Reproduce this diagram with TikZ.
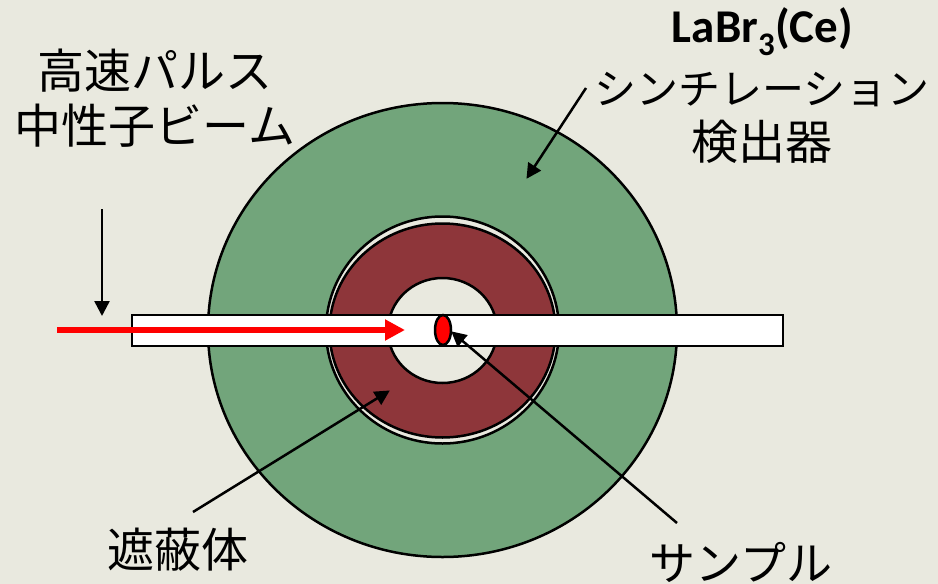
\documentclass[tikz,border=0pt]{standalone}
\usepackage{fontspec}
\setmainfont{Noto Sans CJK JP}
\newfontfamily\latinbold[Ligatures=TeX]{Carlito}
\usetikzlibrary{shapes.geometric,arrows.meta}
\definecolor{bgpale}{HTML}{E9E9DF}
\definecolor{detgreen}{HTML}{72A57B}
\definecolor{shieldred}{HTML}{8E363A}
\tikzset{
  ring/.style={ellipse,draw=black,line width=2.5pt,inner sep=0pt,outer sep=0pt},
  pointer/.style={draw=black,line width=2.5pt,-{Triangle[length=15pt,width=15pt]},shorten >=-1pt},
  beamarrow/.style={draw=red,line width=6pt,-{Triangle[length=20pt,width=20pt]}},
  lab/.style={font=\fontsize{47}{55}\selectfont,align=center,inner sep=0pt,text=black},
}
\begin{document}
\begin{tikzpicture}[x=1pt,y=-1pt]
\useasboundingbox[fill=bgpale] (0,0) rectangle (938,584);
\node[ring,fill=detgreen,minimum width=469pt,minimum height=454pt] (det) at (442.5,330) {};
\node[ring,fill=bgpale,minimum width=233pt,minimum height=227pt] (gap) at (442.5,330) {};
\node[ring,fill=shieldred,minimum width=226pt,minimum height=214pt] (shield) at (442.5,330.5) {};
\node[ring,fill=bgpale,minimum width=109pt,minimum height=105pt] (hole) at (442.5,330.5) {};
\node[draw=black,fill=white,line width=2.5pt,inner sep=0pt,outer sep=0pt,minimum width=651pt,minimum height=31pt] (tube) at (457.5,330.5) {};
\coordinate (beamstart) at (57,330);
\coordinate (beamend) at (405,330);
\draw[beamarrow] (beamstart) -- (beamend);
\node[ring,fill=red,minimum width=16pt,minimum height=30pt] (sample) at (443,330) {};
\coordinate (dropstart) at (102,209);
\coordinate (dropend) at (102,315);
\draw[pointer] (dropstart) -- (dropend);
\coordinate (detstart) at (586,88);
\coordinate (detend) at (527,178);
\draw[pointer] (detstart) -- (detend);
\coordinate (shieldstart) at (193,512);
\coordinate (shieldend) at (389,391);
\draw[pointer] (shieldstart) -- (shieldend);
\coordinate (samplestart) at (677,523);
\coordinate (sampleend) at (452,332);
\draw[pointer] (samplestart) -- (sampleend);
\node[lab] (beamlabel) at (155,98) {高速パルス\\中性子ビーム};
\node[lab] (detlabel) at (762,118) {\fontsize{42}{55}\selectfont シンチレーション\\\fontsize{47}{55}\selectfont 検出器};
\node[lab,font=\latinbold\bfseries\fontsize{47}{50}\selectfont] (crystal) at (762.5,32) {LaBr\textsubscript{3}(Ce)};
\node[lab] (shieldlabel) at (178,550) {遮蔽体};
\node[lab,font=\fontsize{46}{55}\selectfont] (samplelabel) at (741,562) {サンプル};
\end{tikzpicture}
\end{document}
